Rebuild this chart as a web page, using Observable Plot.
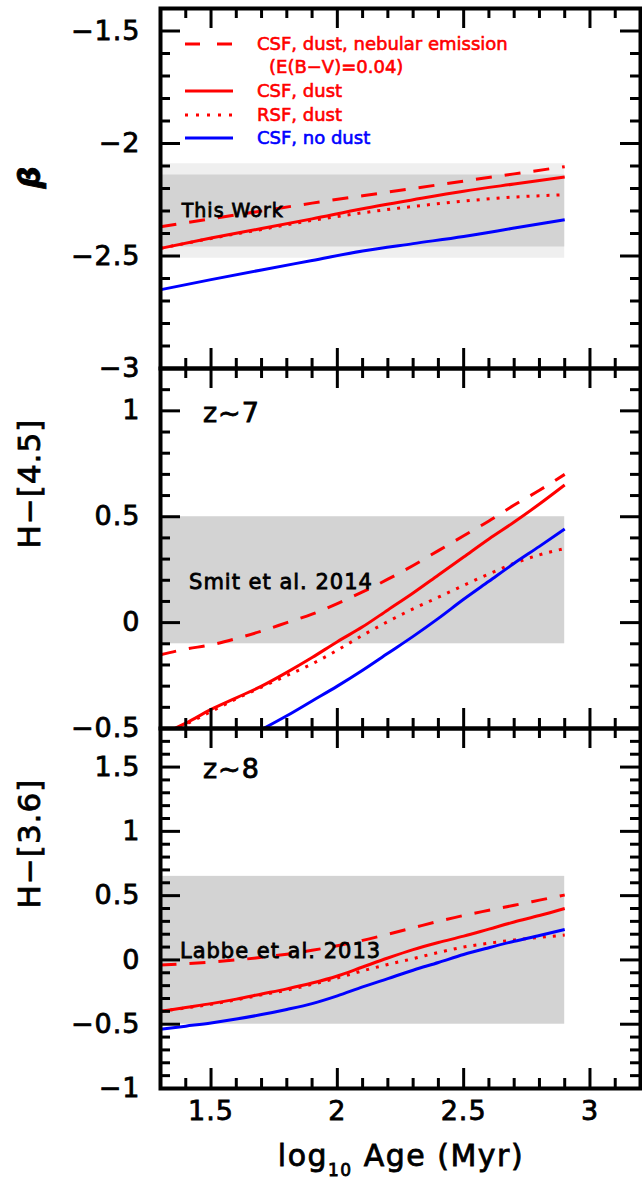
<!DOCTYPE html>
<html>
<head>
<meta charset="utf-8">
<script src="https://cdn.jsdelivr.net/npm/d3@7"></script>
<script src="https://cdn.jsdelivr.net/npm/@observablehq/plot@0.6"></script>
<style>
html,body{margin:0;padding:0;background:#fff;}
#chart{position:relative;width:642px;height:1183px;overflow:hidden;font-family:"DejaVu Sans",sans-serif;}
#chart svg{position:absolute;left:0;}
#chart svg text{stroke:#000;stroke-width:0.8px;}
#chart svg text.leg{stroke-width:0.6px;}
</style>
</head>
<body>
<div id="chart"></div>
<script>
// ---------------- data ----------------
const ageBeta = [1.3, 1.5, 1.7, 1.9, 2.1, 2.3, 2.5, 2.7, 2.9];
const betaNeb    = [-2.37, -2.335, -2.30, -2.265, -2.232, -2.20, -2.167, -2.135, -2.103];
const betaDust   = [-2.466, -2.42, -2.378, -2.335, -2.29, -2.25, -2.212, -2.18, -2.149];
const betaRsf    = [-2.466, -2.422, -2.382, -2.342, -2.308, -2.28, -2.256, -2.238, -2.228];
const betaNoDust = [-2.65, -2.605, -2.562, -2.52, -2.478, -2.445, -2.413, -2.376, -2.339];

const ageColor = [1.3, 1.4, 1.5, 1.6, 1.7, 1.8, 1.9, 2.0, 2.1, 2.2, 2.3, 2.4, 2.5, 2.6, 2.7, 2.8, 2.9];
const h45Neb    = [-0.152, -0.125, -0.105, -0.075, -0.04, 0.0, 0.04, 0.09, 0.145, 0.205, 0.27, 0.34, 0.41, 0.48, 0.555, 0.625, 0.70];
const h45Dust   = [-0.53, -0.475, -0.41, -0.355, -0.3, -0.235, -0.165, -0.09, -0.02, 0.06, 0.14, 0.225, 0.31, 0.395, 0.475, 0.56, 0.65];
const h45Rsf    = [-0.53, -0.48, -0.42, -0.36, -0.305, -0.25, -0.195, -0.13, -0.06, 0.005, 0.065, 0.12, 0.176, 0.23, 0.28, 0.32, 0.35];
const h45NoDust = [null, null, null, null, -0.505, -0.44, -0.37, -0.3, -0.225, -0.145, -0.065, 0.02, 0.11, 0.195, 0.28, 0.36, 0.442];

const h36Neb    = [-0.04, -0.03, -0.017, 0.0, 0.02, 0.045, 0.075, 0.11, 0.152, 0.20, 0.25, 0.30, 0.346, 0.386, 0.425, 0.465, 0.505];
const h36Dust   = [-0.40, -0.37, -0.34, -0.305, -0.265, -0.225, -0.18, -0.125, -0.055, 0.015, 0.08, 0.135, 0.185, 0.24, 0.295, 0.345, 0.40];
const h36Rsf    = [-0.40, -0.373, -0.345, -0.31, -0.272, -0.235, -0.19, -0.14, -0.085, -0.035, 0.01, 0.058, 0.10, 0.13, 0.155, 0.175, 0.193];
const h36NoDust = [-0.54, -0.515, -0.49, -0.46, -0.425, -0.385, -0.34, -0.28, -0.21, -0.145, -0.08, -0.02, 0.042, 0.095, 0.145, 0.19, 0.237];

const seriesNames  = ["CSF, dust, nebular emission", "CSF, dust", "RSF, dust", "CSF, no dust"];
const seriesColors = ["#ff0000", "#ff0000", "#ff0000", "#0000ff"];
const seriesDash   = ["16,13", null, "3,7", null];
const legendSub    = "(E(B\u2212V)=0.04)";

const xTickLabels = [1.5, 2, 2.5, 3];
const betaTicks = [-3, -2.5, -2, -1.5];
const h45Ticks  = [-0.5, 0, 0.5, 1];
const h36Ticks  = [-1, -0.5, 0, 0.5, 1, 1.5];

const ageDomain  = [1.3, 3.2];
const betaDomain = [-3, -1.4];
const h45Domain  = [-0.5, 1.2];
const h36Domain  = [-1, 1.8];

const bandStart = 1.3, bandEnd = 2.9;
const betaOuter = [-2.51, -2.09];
const betaInner = [-2.46, -2.14];
const h45Band   = [-0.1, 0.5];
const h36Band   = [-0.5, 0.65];

const betaNotes = [{x: 1.384, y: -2.30, t: "This Work", size: 19}];
const h45Notes  = [{x: 1.413, y: 0.19, t: "Smit et al. 2014", size: 21}, {x: 1.468, y: 0.99, t: "z~7", size: 27}];
const h36Notes  = [{x: 1.377, y: 0.07, t: "Labbe et al. 2013", size: 21}, {x: 1.468, y: 1.48, t: "z~8", size: 27}];

// ---------------- drawing ----------------
const ML = 160, MR = 2, FW = 642 - ML - MR, FH = 360;
const minor = (lo, hi) => d3.range(Math.round(lo * 10), Math.round(hi * 10) + 1)
  .filter(k => k % 5 !== 0).map(k => k / 10);
const fmt = d => (d < 0 ? "\u2212" : "") + Math.abs(d);

function makePanel({ages, values, yDomain, bands, yTicks, notes, title, titleItalic, top, height, marginTop, marginBottom, xAxis}) {
  const marks = [];
  for (const b of bands) marks.push(Plot.rect([b], {x1: "x1", x2: "x2", y1: "lo", y2: "hi", fill: b.fill}));
  values.forEach((vals, i) => {
    const data = ages.map((a, j) => ({age: a, v: vals[j]})).filter(d => d.v != null);
    marks.push(Plot.line(data, {x: "age", y: "v", stroke: seriesColors[i], strokeWidth: 3, curve: "monotone-x",
      strokeDasharray: seriesDash[i], strokeLinecap: "butt", clip: true}));
  });
  for (const n of notes) marks.push(Plot.text([n], {x: "x", y: "y", text: "t", textAnchor: "start", fontSize: n.size, fill: "black"}));
  const xMin = minor(1.4, 3.1);
  const yMin = minor(yDomain[0] + 0.1, yDomain[1] - 0.1);
  const yMaj = yTicks.filter(v => v > yDomain[0] && v < yDomain[1]);
  marks.push(
    Plot.tickX(xTickLabels, {x: d => d, insetTop: FH - 20, strokeWidth: 3}),
    Plot.tickX(xTickLabels, {x: d => d, insetBottom: FH - 20, strokeWidth: 3}),
    Plot.tickX(xMin, {x: d => d, insetTop: FH - 10, strokeWidth: 3}),
    Plot.tickX(xMin, {x: d => d, insetBottom: FH - 10, strokeWidth: 3}),
    Plot.tickY(yMaj, {y: d => d, insetRight: FW - 20, strokeWidth: 3}),
    Plot.tickY(yMaj, {y: d => d, insetLeft: FW - 20, strokeWidth: 3}),
    Plot.tickY(yMin, {y: d => d, insetRight: FW - 10, strokeWidth: 3}),
    Plot.tickY(yMin, {y: d => d, insetLeft: FW - 10, strokeWidth: 3}),
    Plot.frame({stroke: "black", strokeWidth: 4}),
    Plot.axisY({ticks: yTicks, tickSize: 0, tickPadding: 20, fontSize: 27, tickFormat: fmt, label: null}),
    Plot.text([title], {frameAnchor: "left", dx: -130, rotate: -90, text: d => d, fontSize: 31,
      fontStyle: titleItalic ? "italic" : "normal", fontWeight: titleItalic ? "bold" : "normal", fill: "black"})
  );
  if (xAxis) marks.push(Plot.axisX({ticks: xTickLabels, tickSize: 0, tickPadding: 12, fontSize: 27, tickFormat: fmt, label: null}));
  const svg = Plot.plot({
    width: 642, height, marginLeft: ML, marginRight: MR, marginTop, marginBottom,
    x: {domain: ageDomain, axis: null},
    y: {domain: yDomain, axis: null, label: null},
    style: "font-family:'DejaVu Sans',sans-serif;letter-spacing:1px;overflow:visible;background:transparent;",
    marks
  });
  svg.style.top = top + "px";
  return svg;
}

const chart = document.getElementById("chart");
const band = (r, fill) => ({x1: bandStart, x2: bandEnd, lo: r[0], hi: r[1], fill});

chart.appendChild(makePanel({
  ages: ageBeta, values: [betaNeb, betaDust, betaRsf, betaNoDust], yDomain: betaDomain,
  bands: [band(betaOuter, "#efefef"), band(betaInner, "#d3d3d3")], yTicks: betaTicks, notes: betaNotes,
  title: "\u03b2", titleItalic: true, top: 0, height: 372, marginTop: 8, marginBottom: 4, xAxis: false
}));
chart.appendChild(makePanel({
  ages: ageColor, values: [h45Neb, h45Dust, h45Rsf, h45NoDust], yDomain: h45Domain,
  bands: [band(h45Band, "#d3d3d3")], yTicks: h45Ticks, notes: h45Notes,
  title: "H\u2212[4.5]", titleItalic: false, top: 366, height: 364, marginTop: 2, marginBottom: 2, xAxis: false
}));
chart.appendChild(makePanel({
  ages: ageColor, values: [h36Neb, h36Dust, h36Rsf, h36NoDust], yDomain: h36Domain,
  bands: [band(h36Band, "#d3d3d3")], yTicks: h36Ticks, notes: h36Notes,
  title: "H\u2212[3.6]", titleItalic: false, top: 726, height: 457, marginTop: 2, marginBottom: 95, xAxis: true
}));

// ---------------- legend (inside top panel) and x-axis title ----------------
const ov = d3.select(chart).append("svg").attr("width", 642).attr("height", 1183)
  .style("top", "0px").style("pointer-events", "none")
  .style("font-family", "'DejaVu Sans',sans-serif");
const legendRows = [44, 91, 115, 138];
const legendDash = ["15,17", null, "3,8", null];
seriesNames.forEach((name, i) => {
  const y = legendRows[i];
  ov.append("line").attr("x1", 185).attr("x2", 233).attr("y1", y).attr("y2", y)
    .attr("stroke", seriesColors[i]).attr("stroke-width", 3)
    .attr("stroke-dasharray", legendDash[i]);
  ov.append("text").attr("class", "leg").attr("x", 257).attr("y", y).attr("dy", "0.36em")
    .attr("font-size", 18).attr("fill", seriesColors[i]).style("stroke", seriesColors[i])
    .text(name);
});
ov.append("text").attr("class", "leg").attr("x", 269).attr("y", 67).attr("dy", "0.36em")
  .attr("font-size", 18).attr("fill", seriesColors[0]).style("stroke", seriesColors[0])
  .text(legendSub);

const xt = ov.append("text").attr("x", 401).attr("y", 1166).attr("text-anchor", "middle")
  .attr("font-size", 30).attr("fill", "black").style("letter-spacing", "1.5px");
xt.append("tspan").text("log");
xt.append("tspan").attr("font-size", 17).attr("dy", 10).text("10");
xt.append("tspan").attr("dy", -10).text(" Age (Myr)");
</script>
</body>
</html>
